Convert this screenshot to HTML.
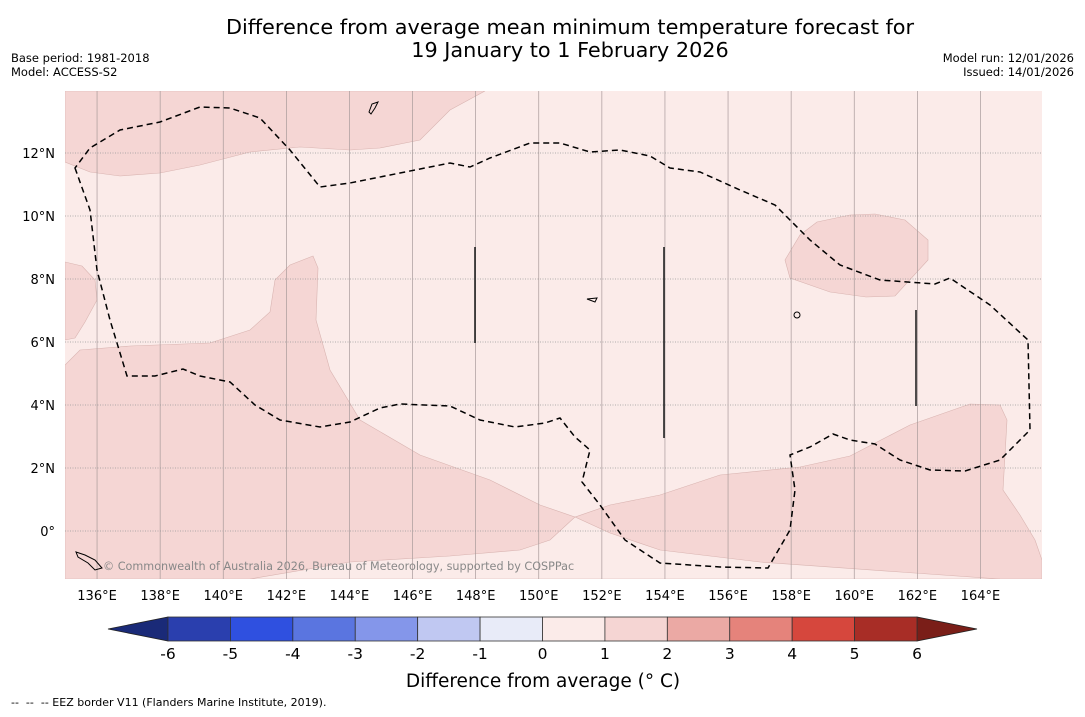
<!DOCTYPE html>
<html><head><meta charset="utf-8">
<style>
body{margin:0;background:#fff;width:1085px;height:713px;overflow:hidden;font-family:"DejaVu Sans","Liberation Sans",sans-serif;}
</style></head>
<body>
<svg id="chart" width="1085" height="713" xmlns="http://www.w3.org/2000/svg" font-family="DejaVu Sans, Liberation Sans, sans-serif">
<text x="570" y="34" font-size="20.8" text-anchor="middle">Difference from average mean minimum temperature forecast for</text>
<text x="570" y="57" font-size="20.8" text-anchor="middle">19 January to 1 February 2026</text>
<text x="11" y="62" font-size="11.5">Base period: 1981-2018</text>
<text x="11" y="76" font-size="11.5">Model: ACCESS-S2</text>
<text x="1074" y="62" font-size="11.5" text-anchor="end">Model run: 12/01/2026</text>
<text x="1074" y="76" font-size="11.5" text-anchor="end">Issued: 14/01/2026</text>
<defs><clipPath id="mapclip"><rect x="65" y="91" width="977" height="488"/></clipPath></defs>
<g id="map" clip-path="url(#mapclip)">
<rect x="65" y="91" width="977" height="488" fill="#fbebe9"/>
<path fill="#f5d6d4" stroke="#d9b4b1" stroke-width="0.6" d="M65,91 L485,91 L450,110 L420,140 L380,148 L350,150 L300,147 L250,152 L200,165 L160,173 L120,176 L90,172 L65,162 Z"/>
<path fill="#f5d6d4" stroke="#d9b4b1" stroke-width="0.6" d="M65,262 L82,266 L95,280 L97,300 L85,322 L75,338 L65,340 Z"/>
<path fill="#f5d6d4" stroke="#d9b4b1" stroke-width="0.6" d="M65,365 L80,350 L130,346 L210,343 L250,330 L270,312 L275,280 L290,265 L313,256 L318,268 L316,320 L330,370 L360,420 L420,455 L490,480 L540,505 L575,517 L610,505 L660,495 L720,475 L800,467 L850,456 L910,425 L970,404 L1000,405 L1007,420 L1003,490 L1020,515 L1035,540 L1042,560 L1042,579 L65,579 Z"/>
<path fill="#fbebe9" stroke="#d9b4b1" stroke-width="0.6" d="M250,579 L350,562 L450,556 L520,550 L550,540 L575,517 L610,533 L660,550 L760,562 L900,572 L1000,579 Z"/>
<path fill="#f5d6d4" stroke="#d9b4b1" stroke-width="0.6" d="M785,260 L800,235 L817,222 L850,215 L875,214 L905,220 L928,240 L928,260 L895,296 L866,297 L830,292 L790,278 Z"/>
<g id="grid"></g>
<path fill="none" stroke="#000" stroke-width="1.5" stroke-dasharray="6,4" d="M75,168 L90,210 L97,270 L110,320 L127,376 L155,376 L183,369 L200,376 L230,382 L255,405 L280,420 L320,427 L350,422 L380,408 L400,404 L450,406 L480,420 L515,427 L545,423 L560,418 L575,437 L590,450 L582,482 L600,505 L625,540 L660,563 L720,567 L768,568 L790,530 L795,490 L790,455 L810,447 L833,434 L850,440 L875,444 L900,460 L930,470 L965,471 L1000,460 L1030,430 L1028,340 L990,305 L950,278 L935,284 L880,280 L840,265 L810,240 L775,205 L740,190 L700,172 L670,168 L650,156 L620,150 L590,152 L560,143 L530,143 L490,158 L470,167 L450,163 L400,173 L350,183 L320,187 L290,150 L260,118 L230,108 L200,107 L160,122 L120,130 L90,148 Z"/>
<line x1="475" y1="247" x2="475" y2="343" stroke="#222" stroke-width="1.6"/>
<line x1="664" y1="247" x2="664" y2="438" stroke="#222" stroke-width="1.6"/>
<line x1="916" y1="310" x2="916" y2="406" stroke="#222" stroke-width="1.6"/>
<path d="M369,112 L372,104 L378,102 L375,108 L371,114 Z" fill="none" stroke="#000" stroke-width="1"/>
<path d="M76,552 L85,555 L95,560 L102,568 L95,570 L88,563 L78,557 Z" fill="none" stroke="#000" stroke-width="1"/>
<ellipse cx="797" cy="315" rx="3" ry="3" fill="none" stroke="#000"/>
<path d="M587,299 L597,298 L595,302 Z" fill="none" stroke="#000"/>
<text x="103" y="570" font-size="11.2" fill="#888">© Commonwealth of Australia 2026, Bureau of Meteorology, supported by COSPPac</text>
</g>
<g id="xlabels"></g>
<g id="ylabels"></g>
<g id="cbar"></g>
<text x="543" y="687" font-size="18.5" text-anchor="middle">Difference from average (° C)</text>
<text x="11" y="706" font-size="11" xml:space="preserve">--  --  -- EEZ border V11 (Flanders Marine Institute, 2019).</text>
</svg>
<script>
const lonTicks = [136,138,140,142,144,146,148,150,152,154,156,158,160,162,164];
const latTicks = [12,10,8,6,4,2,0];
const levels = [-6,-5,-4,-3,-2,-1,0,1,2,3,4,5,6];
const levelColors = ["#2a3fae","#2f50e0","#5a75e0","#8496ea","#c0c8f2","#e8ebf8","#fbebe9","#f5d5d3","#eba9a4","#e5837b","#d6473d","#a82d26"];
const extColors = ["#1a2a78","#7a1e18"];
const NS="http://www.w3.org/2000/svg";
const x = lon => 65.5 + (lon-135)*31.55;
const y = lat => 531 - lat*31.5;
function mk(tag, attrs, parent){const e=document.createElementNS(NS,tag);for(const k in attrs)e.setAttribute(k,attrs[k]);parent.appendChild(e);return e;}
const grid=document.getElementById('grid');
lonTicks.forEach(l=>{
  const ln=mk('line',{x1:x(l),x2:x(l),y1:91,y2:579,stroke:'#a89a9a','stroke-width':0.7},grid);
  
  
  const t=mk('text',{x:x(l),y:600,'font-size':13,'text-anchor':'middle'},document.getElementById('xlabels'));
  t.textContent=l+'°E';
  
  
});
latTicks.forEach(l=>{
  const ln=mk('line',{x1:65,x2:1042,y1:y(l),y2:y(l),stroke:'#999','stroke-width':0.8,'stroke-dasharray':'1,1.5'},grid);
  
  
  const t=mk('text',{x:55,y:y(l)+5,'font-size':13,'text-anchor':'end'},document.getElementById('ylabels'));
  t.textContent=l===0?'0°':l+'°N';
  
  
});
const cb=document.getElementById('cbar');
const cx0=168, cx1=917, cy0=617, cy1=641;
const cw=(cx1-cx0)/(levels.length-1);
const p1=mk('polygon',{points:`108,629 ${cx0},${cy0} ${cx0},${cy1}`,fill:extColors[0],stroke:'#222','stroke-width':0.8},cb);


const p2=mk('polygon',{points:`977,629 ${cx1},${cy0} ${cx1},${cy1}`,fill:extColors[1],stroke:'#222','stroke-width':0.8},cb);


levelColors.forEach((c,i)=>{
  const r=mk('rect',{x:cx0+i*cw,y:cy0,width:cw,height:cy1-cy0,fill:c,stroke:'#333','stroke-width':0.8},cb);
  
  
});
levels.forEach((v,i)=>{
  const t=mk('text',{x:cx0+i*cw,y:659,'font-size':15.5,'text-anchor':'middle'},cb);
  t.textContent=v;
  
  
});
</script>
</body></html>
